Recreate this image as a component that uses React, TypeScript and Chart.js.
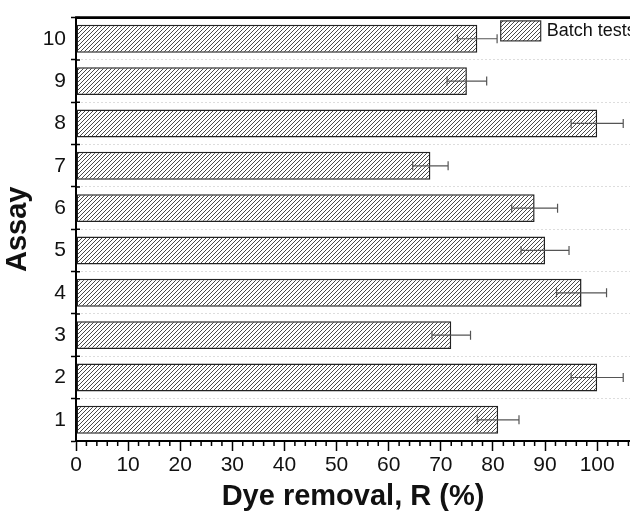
import React, { useEffect, useRef } from "react";
import { Chart, registerables } from "chart.js";

Chart.register(...registerables);

const assays = ["1", "2", "3", "4", "5", "6", "7", "8", "9", "10"];
const removal = [81, 100, 72, 97, 90, 88, 68, 100, 75, 77];
const errors = [4, 5, 3.7, 4.8, 4.6, 4.4, 3.4, 5, 3.8, 3.8];
const seriesLabel = "Batch tests";
const xTitle = "Dye removal, R (%)";
const yTitle = "Assay";
const xMin = 0;
const xMax = 106.3;
const xStep = 10;
const minorStep = 2;

const FONT = "'Liberation Sans', Arial, sans-serif";

function makeHatch(): CanvasPattern | string {
  const c = document.createElement("canvas");
  const s = 4;
  c.width = s;
  c.height = s;
  const g = c.getContext("2d");
  if (!g) return "#ccc";
  g.fillStyle = "#ffffff";
  g.fillRect(0, 0, s, s);
  g.strokeStyle = "#4a4a4a";
  g.lineWidth = 1;
  g.beginPath();
  g.moveTo(-1, s + 1);
  g.lineTo(s + 1, -1);
  g.moveTo(-1, 1);
  g.lineTo(1, -1);
  g.moveTo(s - 1, s + 1);
  g.lineTo(s + 1, s - 1);
  g.stroke();
  const p = g.createPattern(c, "repeat");
  return p || "#ccc";
}

export default function App() {
  const ref = useRef<HTMLCanvasElement | null>(null);

  useEffect(() => {
    if (!ref.current) return;
    const hatch = makeHatch();

    const extras = {
      id: "extras",
      afterDatasetsDraw(chart: any) {
        const { ctx } = chart;
        const xs = chart.scales.x;
        const ys = chart.scales.y;
        // error bars
        ctx.save();
        ctx.strokeStyle = "#555";
        ctx.lineWidth = 1.2;
        removal.forEach((v, i) => {
          const y = ys.getPixelForValue(i);
          const x1 = xs.getPixelForValue(v - errors[i]);
          const x2 = xs.getPixelForValue(v + errors[i]);
          ctx.beginPath();
          ctx.moveTo(x1, y);
          ctx.lineTo(x2, y);
          ctx.moveTo(x1, y - 4.5);
          ctx.lineTo(x1, y + 4.5);
          ctx.moveTo(x2, y - 4.5);
          ctx.lineTo(x2, y + 4.5);
          ctx.stroke();
        });
        ctx.restore();
      },
      afterDraw(chart: any) {
        const { ctx, chartArea } = chart;
        const xs = chart.scales.x;
        const ys = chart.scales.y;
        ctx.save();
        // top border
        ctx.strokeStyle = "#000";
        ctx.lineWidth = 2.6;
        ctx.beginPath();
        ctx.moveTo(chartArea.left - 1, chartArea.top);
        ctx.lineTo(chartArea.right, chartArea.top);
        ctx.stroke();
        // minor ticks on x
        ctx.lineWidth = 1.5;
        ctx.beginPath();
        for (let v = xMin + minorStep; v <= xMax; v += minorStep) {
          if (Math.abs(v % xStep) < 1e-6) continue;
          const x = xs.getPixelForValue(v);
          ctx.moveTo(x, chartArea.bottom);
          ctx.lineTo(x, chartArea.bottom + 5);
        }
        // inner part of the y ticks (crossing the axis)
        for (let i = 0; i <= assays.length; i++) {
          const y = ys.getPixelForValue(i - 0.5);
          ctx.moveTo(chartArea.left, y);
          ctx.lineTo(chartArea.left + 4, y);
        }
        ctx.stroke();
        // legend
        const bx = chartArea.right - 129.3;
        const by = chartArea.top + 3.3;
        ctx.fillStyle = hatch as any;
        ctx.fillRect(bx, by, 40, 20);
        ctx.strokeStyle = "#333";
        ctx.lineWidth = 1.2;
        ctx.strokeRect(bx, by, 40, 20);
        ctx.fillStyle = "#111";
        ctx.font = `18px ${FONT}`;
        ctx.textAlign = "left";
        ctx.textBaseline = "middle";
        ctx.fillText(seriesLabel, bx + 46, by + 10.5);
        ctx.restore();
      },
    };

    const chart = new Chart(ref.current, {
      type: "bar",
      data: {
        labels: assays,
        datasets: [
          {
            label: seriesLabel,
            data: removal,
            backgroundColor: hatch as any,
            borderColor: "#222",
            borderWidth: 1.5,
            borderSkipped: false,
            barPercentage: 0.66,
            categoryPercentage: 1,
          },
        ],
      },
      options: {
        indexAxis: "y",
        animation: false,
        responsive: true,
        maintainAspectRatio: false,
        layout: { padding: { top: 14, right: 0, bottom: 0, left: 0 } },
        plugins: {
          legend: { display: false },
          tooltip: { enabled: false },
        },
        scales: {
          x: {
            type: "linear",
            min: xMin,
            max: xMax,
            afterFit: (s: any) => {
              s.height = 71;
            },
            ticks: {
              stepSize: xStep,
              includeBounds: false,
              autoSkip: false,
              maxRotation: 0,
              padding: 2,
              color: "#111",
              font: { family: FONT, size: 21 },
            },
            grid: {
              drawOnChartArea: false,
              drawTicks: true,
              tickLength: 10,
              tickColor: "#000",
              tickWidth: 1.5,
            },
            border: { display: true, color: "#000", width: 2 },
            title: {
              display: true,
              text: xTitle,
              color: "#111",
              font: { family: FONT, size: 29, weight: "bold", lineHeight: 1 },
              padding: { top: 0, bottom: 1 },
            },
          },
          y: {
            type: "category",
            reverse: true,
            afterFit: (s: any) => {
              s.width = 76;
            },
            ticks: {
              padding: 5,
              color: "#111",
              font: { family: FONT, size: 21 },
            },
            grid: {
              color: "#dddddd",
              lineWidth: 1,
              tickColor: "#000",
              tickLength: 5,
              tickWidth: 1.5,
            },
            border: { display: true, color: "#000", width: 2, dash: [2, 2] },
            title: {
              display: true,
              text: yTitle,
              color: "#111",
              font: { family: FONT, size: 29, weight: "bold", lineHeight: 1 },
              padding: { top: 3, bottom: 0 },
            },
          },
        },
      },
      plugins: [extras],
    });

    return () => chart.destroy();
  }, []);

  return (
    <div style={{ position: "fixed", left: 0, top: 0, width: 630, height: 512 }}>
      <canvas ref={ref} />
    </div>
  );
}
